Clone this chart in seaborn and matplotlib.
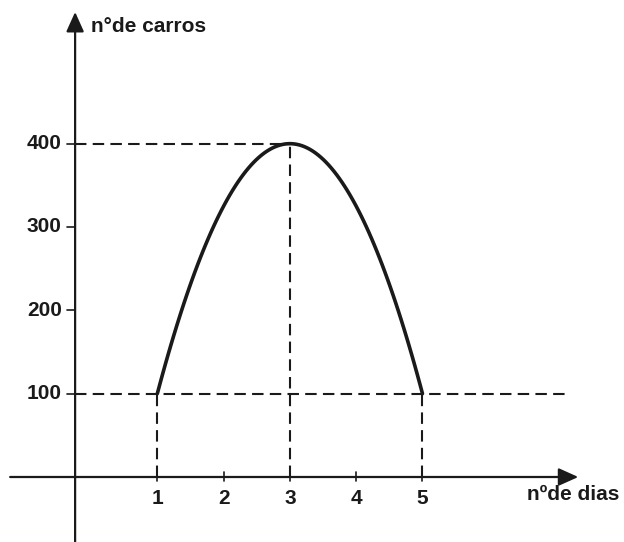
import matplotlib
matplotlib.use("Agg")
import matplotlib.pyplot as plt
import seaborn as sns
import pandas as pd

# data
days = [1, 2, 3, 4, 5]
cars = [100, 325, 400, 325, 100]
x_ticks = [1, 2, 3, 4, 5]
y_ticks = [100, 200, 300, 400]
x_label = "nºde dias"
y_label = "n°de carros"

sns.set_theme(style="white")
plt.rcParams["font.family"] = ["Liberation Sans", "DejaVu Sans"]
ink = "#1a1a1a"

df = pd.DataFrame({"dias": days, "carros": cars})

fig = plt.figure(figsize=(6.24, 5.42), dpi=100)
ax = fig.add_axes([0, 0, 1, 1])
ax.set_xlim(-1.373, 8.04)
ax.set_ylim(-78, 572.4)
ax.axis("off")

y_axis_x = -0.24

# parabola fitted by seaborn through the points
sns.regplot(data=df, x="dias", y="carros", order=2, ci=None, scatter=False,
            truncate=True, ax=ax, line_kws={"color": ink, "lw": 2.6})

# dashed guide lines
dash = (0, (5.5, 3))
ax.hlines(400, y_axis_x, 3, colors=ink, lw=1.5, linestyles=[dash])
ax.hlines(100, y_axis_x, 7.2, colors=ink, lw=1.5, linestyles=[dash])
for d, c in zip(days, cars):
    if d in (1, 3, 5):
        ax.vlines(d, 0, c, colors=ink, lw=1.5, linestyles=[dash])

# axes with arrows
ax.annotate("", xy=(7.35, 0), xytext=(-1.22, 0),
            arrowprops=dict(arrowstyle="-|>,head_length=1.0,head_width=0.45",
                            color=ink, lw=1.6, shrinkA=0, shrinkB=0))
ax.annotate("", xy=(y_axis_x, 558), xytext=(y_axis_x, -80),
            arrowprops=dict(arrowstyle="-|>,head_length=1.0,head_width=0.45",
                            color=ink, lw=1.6, shrinkA=0, shrinkB=0))

# ticks and labels
fs = 15
for t in x_ticks:
    ax.plot([t, t], [-5, 6], color=ink, lw=1.2)
    ax.text(t, -26, str(t), ha="center", va="center", fontsize=fs,
            fontweight="bold", color=ink)
for t in y_ticks:
    ax.plot([y_axis_x - 0.12, y_axis_x], [t, t], color=ink, lw=1.2)
    ax.text(y_axis_x - 0.2, t, str(t), ha="right", va="center", fontsize=fs,
            fontweight="bold", color=ink)

ax.text(6.58, -21, x_label, ha="left", va="center", fontsize=fs,
        fontweight="bold", color=ink)
ax.text(0.0, 540, y_label, ha="left", va="center", fontsize=fs,
        fontweight="bold", color=ink)

fig.savefig("out.png", dpi=100)
